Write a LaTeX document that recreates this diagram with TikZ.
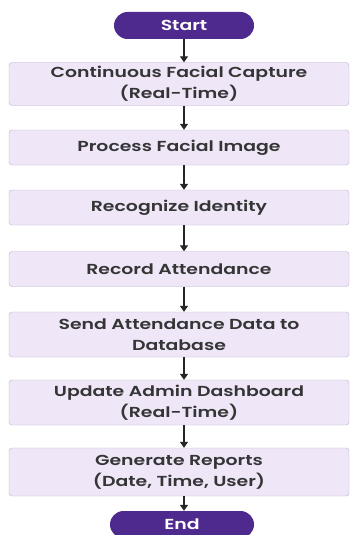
\documentclass[tikz,border=0pt]{standalone}
\usepackage{fontspec}
\setmainfont{Poppins}[FakeStretch=1.3, BoldFont={Poppins SemiBold}]
\usetikzlibrary{arrows.meta}

\definecolor{termfill}{HTML}{4E2A8E}
\definecolor{boxfill}{HTML}{EFE7F8}
\definecolor{boxline}{HTML}{B9AFCB}
\definecolor{txtgray}{HTML}{353535}

\begin{document}
\begin{tikzpicture}[x=1pt,y=-1pt,
  terminal/.style={rectangle, rounded corners=13.5pt, fill=termfill, text=white,
    minimum width=140pt, minimum height=27pt, font=\fontsize{14.5}{18}\selectfont\bfseries},
  stepbox/.style={draw=boxline, fill=boxfill, rounded corners=3pt, text=txtgray,
    minimum width=340pt, align=center, font=\fontsize{14.5}{21}\selectfont\bfseries},
  flow/.style={draw=black!85, line width=1.3pt, -{Triangle[width=8pt,length=6pt]}}]

% page frame
\useasboundingbox (0,0) rectangle (350,535);

%% terminals
\node[terminal] (start) at (184,25.5) {Start};
\node[terminal, minimum width=144pt] (stop) at (182,524.5) {End};

%% process steps
\node[stepbox, minimum height=43pt] (capture) at (179,84) {Continuous Facial Capture\\(Real-Time)};
\node[stepbox, minimum height=35pt] (process) at (179,147.5) {Process Facial Image};
\node[stepbox, minimum height=35pt] (recognize) at (179,207.5) {Recognize Identity};
\node[stepbox, minimum height=35pt] (record) at (179,269) {Record Attendance};
\node[stepbox, minimum height=45pt] (send) at (179,334.5) {Send Attendance Data to\\Database};
\node[stepbox, minimum height=45pt] (update) at (179,402.5) {Update Admin Dashboard\\(Real-Time)};
\node[stepbox, minimum height=48pt] (report) at (179,472) {Generate Reports\\(Date, Time, User)};

%% arrows
\draw[flow] (start.south) -- (start.south |- capture.north);
\foreach \a/\b in {capture/process, process/recognize, recognize/record,
                   record/send, send/update, update/report}
  \draw[flow] (\a.south -| start) -- (\b.north -| start);
\draw[flow] (report.south -| start) -- (start |- stop.north);

\end{tikzpicture}
\end{document}
